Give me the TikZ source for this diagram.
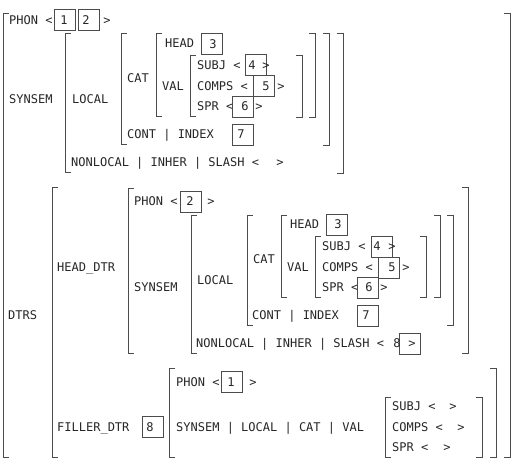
\documentclass[tikz,border=0pt]{standalone}
\usepackage{fontspec}
\setmonofont{DejaVu Sans Mono}
\usepackage{tikz}

\tikzset{
  lbl/.style={anchor=west, inner sep=0pt, text=black!85,
    font=\ttfamily\fontsize{12}{14}\selectfont, text height=8.75pt, text depth=0pt},
  num/.style={lbl, anchor=center},
  tagbox/.style={draw=black!70, line width=0.9pt, minimum width=21pt, minimum height=21pt, inner sep=0pt},
  brk/.style={draw=black!70, line width=0.9pt}
}

\begin{document}
\begin{tikzpicture}[x=1pt, y=-1pt]

    \useasboundingbox (0,0) rectangle (515,465);

    % mother
    \node[lbl] (phonA) at (9,20) {PHON <};
    \node[tagbox] (tagA1) at (65,20) {};
    \node[num] (numA1) at (64,20) {1};
    \node[tagbox] (tagA2) at (89,20) {};
    \node[num] (numA2) at (86,20) {2};
    \node[num] (gtA0) at (107,20) {>};

    \node[lbl] (synsemA) at (9,99) {SYNSEM};
    \node[lbl] (localA) at (72,99) {LOCAL};
    \node[lbl] (catA) at (127,78) {CAT};
    \node[lbl] (headA) at (165,43) {HEAD};
    \node[tagbox] (tagA3) at (211.5,44) {};
    \node[num] (numA3) at (213,44) {3};
    \node[lbl] (valA) at (162,86) {VAL};

    \node[lbl] (subjA) at (197,65) {SUBJ <};
    \node[tagbox] (tagA4) at (256,65) {};
    \node[num] (numA4) at (252,65) {4};
    \node[num] (gtA4) at (266,65) {>};
    \node[lbl] (compsA) at (197,86) {COMPS <};
    \node[tagbox] (tagA5) at (263.5,86) {};
    \node[num] (numA5) at (266,86) {5};
    \node[num] (gtA5) at (281,86) {>};
    \node[lbl] (sprA) at (197,106) {SPR <};
    \node[tagbox] (tagA6) at (242.5,106.5) {};
    \node[num] (numA6) at (245,106) {6};
    \node[num] (gtA6) at (259,106) {>};

    \node[lbl] (contA) at (127,134) {CONT | INDEX};
    \node[tagbox] (tagA7) at (242.5,134.5) {};
    \node[num] (numA7) at (241,134) {7};
    \node[lbl] (nonlocA) at (71,162) {NONLOCAL | INHER | SLASH <};
    \node[num] (gtA8) at (280,162) {>};

    % head daughter
    \node[lbl] (dtrs) at (8,315) {DTRS};
    \node[lbl] (headdtr) at (57,267) {HEAD\_DTR};
    \node[lbl] (phonB) at (134,201) {PHON <};
    \node[tagbox] (tagB2) at (190.5,201.5) {};
    \node[num] (numB2) at (190,201) {2};
    \node[num] (gtB0) at (211,201) {>};

    \node[lbl] (synsemB) at (134,287) {SYNSEM};
    \node[lbl] (localB) at (197,280) {LOCAL};
    \node[lbl] (catB) at (253,259) {CAT};
    \node[lbl] (headB) at (290,224) {HEAD};
    \node[tagbox] (tagB3) at (336.5,225) {};
    \node[num] (numB3) at (338,224) {3};
    \node[lbl] (valB) at (287,267) {VAL};

    \node[lbl] (subjB) at (322,246) {SUBJ <};
    \node[tagbox] (tagB4) at (381.5,246.5) {};
    \node[num] (numB4) at (377,246) {4};
    \node[num] (gtB4) at (392,246) {>};
    \node[lbl] (compsB) at (322,267) {COMPS <};
    \node[tagbox] (tagB5) at (388.5,267.5) {};
    \node[num] (numB5) at (392,267) {5};
    \node[num] (gtB5) at (406,267) {>};
    \node[lbl] (sprB) at (322,287) {SPR <};
    \node[tagbox] (tagB6) at (367.5,288) {};
    \node[num] (numB6) at (369,287) {6};
    \node[num] (gtB6) at (384,287) {>};

    \node[lbl] (contB) at (252,315) {CONT | INDEX};
    \node[tagbox] (tagB7) at (367.5,315.5) {};
    \node[num] (numB7) at (366,315) {7};
    \node[lbl] (nonlocB) at (196,343) {NONLOCAL | INHER | SLASH <};
    \node[tagbox] (tagB8) at (409.5,343.5) {};
    \node[num] (numB8) at (397,343) {8};
    \node[num] (gtB8) at (412,343) {>};

    % filler daughter
    \node[lbl] (fillerdtr) at (57,427) {FILLER\_DTR};
    \node[tagbox] (tagC8) at (152.5,427) {};
    \node[num] (numC8) at (150,427) {8};
    \node[lbl] (phonC) at (176,382) {PHON <};
    \node[tagbox] (tagC1) at (232,382) {};
    \node[num] (numC1) at (231,382) {1};
    \node[num] (gtC0) at (253,382) {>};
    \node[lbl] (pathC) at (176,427) {SYNSEM | LOCAL | CAT | VAL};
    \node[lbl] (subjC) at (392,406) {SUBJ <};
    \node[num] (gtC4) at (453,406) {>};
    \node[lbl] (compsC) at (392,427) {COMPS <};
    \node[num] (gtC5) at (461,427) {>};
    \node[lbl] (sprC) at (392,447) {SPR <};
    \node[num] (gtC6) at (447,447) {>};

    % left brackets
    \draw[brk] (9,13) -- (3,13) -- (3,457) -- (9,457);
    \draw[brk] (71,33) -- (65,33) -- (65,172) -- (71,172);
    \draw[brk] (127,33) -- (121,33) -- (121,144) -- (127,144);
    \draw[brk] (162,33) -- (156,33) -- (156,116) -- (162,116);
    \draw[brk] (196,55) -- (190,55) -- (190,116) -- (196,116);
    \draw[brk] (58,187) -- (52,187) -- (52,457) -- (58,457);
    \draw[brk] (134,188) -- (128,188) -- (128,353) -- (134,353);
    \draw[brk] (197,215) -- (191,215) -- (191,353) -- (197,353);
    \draw[brk] (253,215) -- (247,215) -- (247,325) -- (253,325);
    \draw[brk] (287,215) -- (281,215) -- (281,297) -- (287,297);
    \draw[brk] (321,236) -- (315,236) -- (315,297) -- (321,297);
    \draw[brk] (175,368) -- (169,368) -- (169,457) -- (175,457);
    \draw[brk] (391,397) -- (385,397) -- (385,457) -- (391,457);

    % right brackets
    \draw[brk] (504,13) -- (510,13) -- (510,457) -- (504,457);
    \draw[brk] (337,33) -- (343,33) -- (343,173) -- (337,173);
    \draw[brk] (323,33) -- (329,33) -- (329,145) -- (323,145);
    \draw[brk] (309,33) -- (315,33) -- (315,117) -- (309,117);
    \draw[brk] (296,55) -- (302,55) -- (302,117) -- (296,117);
    \draw[brk] (462,187) -- (468,187) -- (468,353) -- (462,353);
    \draw[brk] (447,215) -- (453,215) -- (453,325) -- (447,325);
    \draw[brk] (434,215) -- (440,215) -- (440,297) -- (434,297);
    \draw[brk] (420,236) -- (426,236) -- (426,297) -- (420,297);
    \draw[brk] (490,368) -- (496,368) -- (496,457) -- (490,457);
    \draw[brk] (476,397) -- (482,397) -- (482,457) -- (476,457);

\end{tikzpicture}
\end{document}
